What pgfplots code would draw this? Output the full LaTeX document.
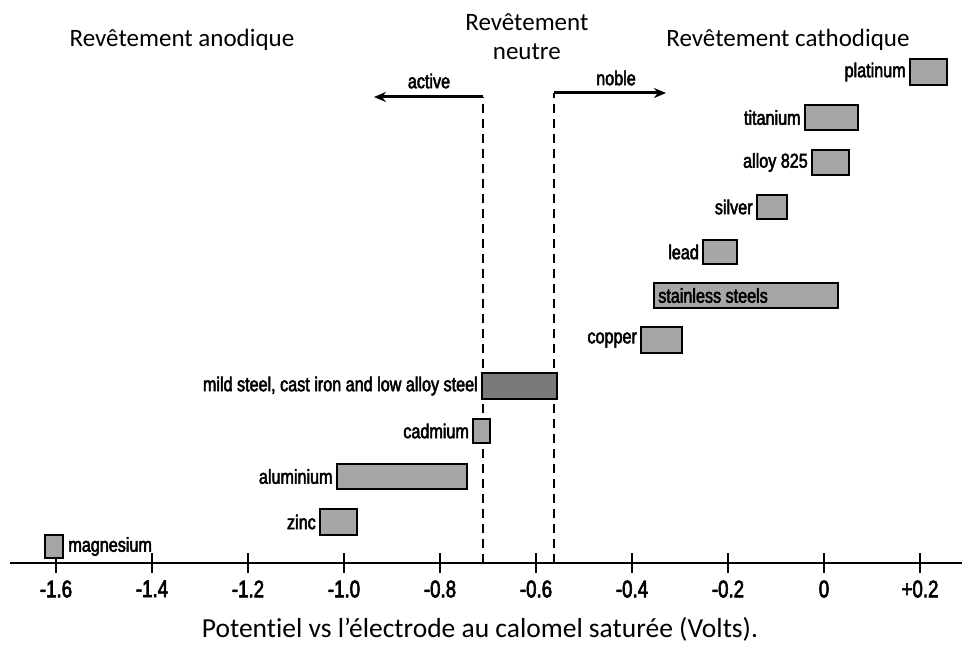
\documentclass[border=0pt]{standalone}
\usepackage{pgfplots}
\pgfplotsset{compat=1.18}
\usepackage{fontspec}
\setmainfont{Carlito}[Ligatures=NoCommon]
\newfontfamily\labfont[FakeStretch=0.8,FakeBold=2.5]{Liberation Sans}
\newfontfamily\ticfont[FakeStretch=0.78,FakeBold=2.5]{Liberation Sans}
\usetikzlibrary{arrows.meta}
\newcommand{\lab}{\labfont\fontsize{20.2}{22}\selectfont}
\newcommand{\tit}{\fontsize{25}{29}\selectfont}
\begin{document}
\begin{tikzpicture}[x=1pt,y=1pt]
\useasboundingbox (0,0) rectangle (962,654);
\begin{axis}[
  at={(10pt,91pt)}, anchor=south west,
  scale only axis, width=952pt, height=563pt,
  xmin=-1.6958, xmax=0.2875, ymin=0, ymax=563,
  axis x line=bottom, axis y line=none,
  axis line style={line width=2.8pt, -},
  xtick={-1.6,-1.4,-1.2,-1.0,-0.8,-0.6,-0.4,-0.2,0,0.2},
  xticklabels={-1.6,-1.4,-1.2,-1.0,-0.8,-0.6,-0.4,-0.2,0,+0.2},
  xtick align=center, major tick length=20pt,
  every major tick/.style={line width=2.2pt, black},
  xticklabel style={font=\ticfont\fontsize{24}{26}\selectfont, yshift=-4pt},
  /pgf/number format/assume math mode=true,
  clip=false,
  barst/.style={draw=black, line width=2.3pt, fill=black!35},
]
% dashed boundaries (drawn first, bars cover them)
\addplot[black, line width=2.5pt, dash pattern=on 9pt off 6pt] coordinates {(-0.7104,0) (-0.7104,466)};
\addplot[black, line width=2.5pt, dash pattern=on 9pt off 6pt] coordinates {(-0.5625,0) (-0.5625,470)};
% arrows
\addplot[black, line width=3pt, -{Stealth[length=12pt,width=10pt]}] coordinates {(-0.7104,466) (-0.9375,466)};
\addplot[black, line width=3pt, -{Stealth[length=12pt,width=10pt]}] coordinates {(-0.5625,470) (-0.3292,470)};
% bars: (low, high potential) x (row bottom, row top)
\addplot[barst] coordinates {(0.179,478) (0.256,478) (0.256,504) (0.179,504)} -- cycle;
\addplot[barst] coordinates {(-0.040,433) (0.071,433) (0.071,458) (-0.040,458)} -- cycle;
\addplot[barst] coordinates {(-0.025,388) (0.052,388) (0.052,413) (-0.025,413)} -- cycle;
\addplot[barst] coordinates {(-0.140,344) (-0.077,344) (-0.077,368) (-0.140,368)} -- cycle;
\addplot[barst] coordinates {(-0.252,299) (-0.181,299) (-0.181,323) (-0.252,323)} -- cycle;
\addplot[barst] coordinates {(-0.354,255) (0.029,255) (0.029,280) (-0.354,280)} -- cycle;
\addplot[barst] coordinates {(-0.381,210) (-0.296,210) (-0.296,236) (-0.381,236)} -- cycle;
\addplot[barst, fill=black!52] coordinates {(-0.7125,164) (-0.556,164) (-0.556,190) (-0.7125,190)} -- cycle;
\addplot[barst] coordinates {(-0.731,120) (-0.696,120) (-0.696,144) (-0.731,144)} -- cycle;
\addplot[barst] coordinates {(-1.015,74) (-0.744,74) (-0.744,99) (-1.015,99)} -- cycle;
\addplot[barst] coordinates {(-1.050,28) (-0.973,28) (-0.973,54) (-1.050,54)} -- cycle;
\addplot[barst] coordinates {(-1.623,5) (-1.585,5) (-1.585,28) (-1.623,28)} -- cycle;
% labels
\node[font=\lab, anchor=east, inner sep=0pt, xshift=-4pt] at (axis cs:0.179,491) {platinum};
\node[font=\lab, anchor=east, inner sep=0pt, xshift=-4pt] at (axis cs:-0.040,445.5) {titanium};
\node[font=\lab, anchor=east, inner sep=0pt, xshift=-4pt] at (axis cs:-0.025,400.5) {alloy 825};
\node[font=\lab, anchor=east, inner sep=0pt, xshift=-4pt] at (axis cs:-0.140,356) {silver};
\node[font=\lab, anchor=east, inner sep=0pt, xshift=-4pt] at (axis cs:-0.252,311) {lead};
\node[font=\lab, anchor=west, inner sep=0pt, xshift=4pt] at (axis cs:-0.354,267.5) {stainless steels};
\node[font=\lab, anchor=east, inner sep=0pt, xshift=-4pt] at (axis cs:-0.381,223) {copper};
\node[font=\lab, anchor=east, inner sep=0pt, xshift=-4pt] at (axis cs:-0.7125,177) {mild steel, cast iron and low alloy steel};
\node[font=\lab, anchor=east, inner sep=0pt, xshift=-4pt] at (axis cs:-0.731,132) {cadmium};
\node[font=\lab, anchor=east, inner sep=0pt, xshift=-4pt] at (axis cs:-1.015,86.5) {aluminium};
\node[font=\lab, anchor=east, inner sep=0pt, xshift=-4pt] at (axis cs:-1.050,41) {zinc};
\node[font=\lab, anchor=west, inner sep=0pt, xshift=5pt] at (axis cs:-1.585,16.5) {magnesium};
\node[font=\lab] at (axis cs:-0.8229,482) {active};
\node[font=\lab] at (axis cs:-0.4333,485) {noble};
% titles
\node[font=\tit] at (axis cs:-1.3375,523) {Revêtement anodique};
\node[font=\tit, align=center] at (axis cs:-0.619,526) {Revêtement\\neutre};
\node[font=\tit] at (axis cs:-0.075,523) {Revêtement cathodique};
\node[font=\fontsize{27.5}{30}\selectfont] at (axis cs:-0.7167,-66) {Potentiel vs l’électrode au calomel saturée (Volts).};
\end{axis}
\end{tikzpicture}
\end{document}
